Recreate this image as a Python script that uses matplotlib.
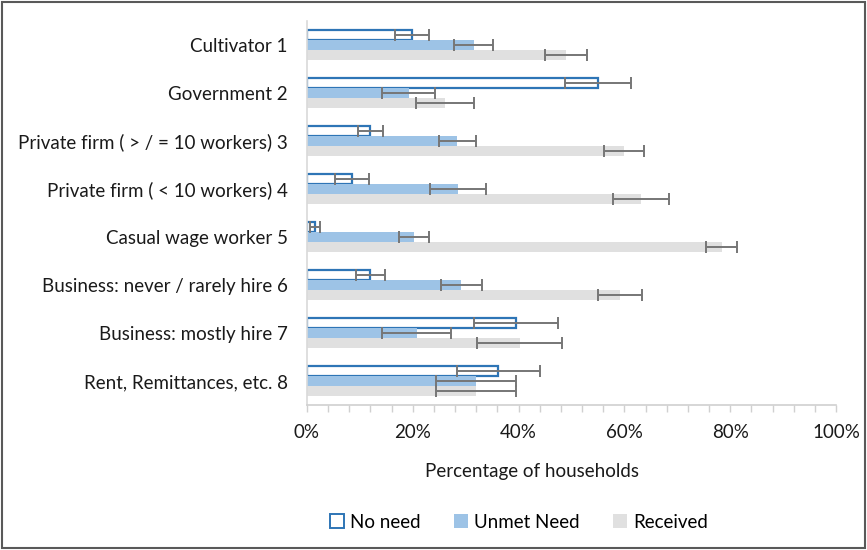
import matplotlib
matplotlib.use("Agg")
import matplotlib.pyplot as plt
from matplotlib.patches import Patch, Rectangle
import numpy as np

plt.rcParams['font.family'] = ['Lato', 'DejaVu Sans']

categories = ["Cultivator 1", "Government 2", "Private firm ( > / = 10 workers) 3",
              "Private firm ( < 10 workers) 4", "Casual wage worker 5",
              "Business: never / rarely hire 6", "Business: mostly hire 7",
              "Rent, Remittances, etc. 8"]

no_need = [19.9, 55.0, 12.0, 8.5, 1.5, 12.0, 39.5, 36.2]
no_need_err = [3.2, 6.2, 2.4, 3.2, 0.9, 2.8, 8.0, 7.8]
unmet = [31.5, 19.2, 28.4, 28.6, 20.2, 29.2, 20.7, 32.0]
unmet_err = [3.7, 5.0, 3.5, 5.3, 2.9, 3.9, 6.6, 7.6]
received = [49.0, 26.1, 59.9, 63.1, 78.4, 59.2, 40.2, 32.0]
received_err = [4.0, 5.5, 3.8, 5.3, 2.9, 4.2, 8.0, 7.6]

series_labels = ["No need", "Unmet Need", "Received"]
xtick_vals = [0, 20, 40, 60, 80, 100]

W, H = 867, 550
FS = 13.5
fig = plt.figure(figsize=(W / 100, H / 100), dpi=100)
ax = fig.add_axes([307 / W, (H - 405) / H, 529 / W, 384 / H])

blue_edge = '#2E75B6'
unmet_col = '#9DC3E6'
recv_col = '#E0E0E0'
err_col = '#767676'

y = np.arange(len(categories))
h = 0.215
ek = dict(ecolor=err_col, elinewidth=1.4, capsize=4, capthick=1.4)

ax.barh(y - h, no_need, height=h, facecolor='white', edgecolor=blue_edge,
        linewidth=1.6, zorder=2)
ax.errorbar(no_need, y - h, xerr=no_need_err, fmt='none', zorder=3, **ek)
ax.barh(y, unmet, height=h, color=unmet_col, zorder=2)
ax.errorbar(unmet, y, xerr=unmet_err, fmt='none', zorder=3, **ek)
ax.barh(y + h, received, height=h, color=recv_col, zorder=2)
ax.errorbar(received, y + h, xerr=received_err, fmt='none', zorder=3, **ek)

ax.set_ylim(len(categories) - 0.5, -0.5)
ax.set_xlim(0, 100)
ax.set_yticks(y)
ax.set_yticklabels(categories, fontsize=FS, color='#1a1a1a')
ax.tick_params(axis='y', length=0, pad=14)
ax.set_xticks(xtick_vals)
ax.set_xticklabels([f"{v}%" for v in xtick_vals], fontsize=FS, color='#1a1a1a')
ax.set_xticks(np.arange(0, 101, 4), minor=True)
ax.tick_params(axis='x', which='both', length=5, width=1, color='#D0D0D0',
               direction='out', pad=9)

for s in ['top', 'right']:
    ax.spines[s].set_visible(False)
ax.spines['left'].set_color('#D9D9D9')
ax.spines['bottom'].set_color('#D0D0D0')
ax.spines['left'].set_linewidth(1.2)
ax.spines['bottom'].set_linewidth(1.2)

fig.text(532 / W, 1 - 472 / H, "Percentage of households", ha='center',
         va='center', fontsize=FS, color='#1a1a1a')

handles = [Patch(facecolor='white', edgecolor=blue_edge, linewidth=1.4),
           Patch(facecolor=unmet_col), Patch(facecolor=recv_col)]
fig.legend(handles, series_labels, loc='center', ncol=3, frameon=False,
           bbox_to_anchor=(519 / W, 1 - 522 / H), fontsize=FS,
           handlelength=0.75, handleheight=0.75, handletextpad=0.3,
           columnspacing=1.8)

fig.add_artist(Rectangle((2 / W, 2 / H), (W - 4) / W, (H - 4) / H,
                         transform=fig.transFigure, fill=False,
                         edgecolor='#595959', linewidth=1.5))

fig.savefig("out.png", dpi=100)
